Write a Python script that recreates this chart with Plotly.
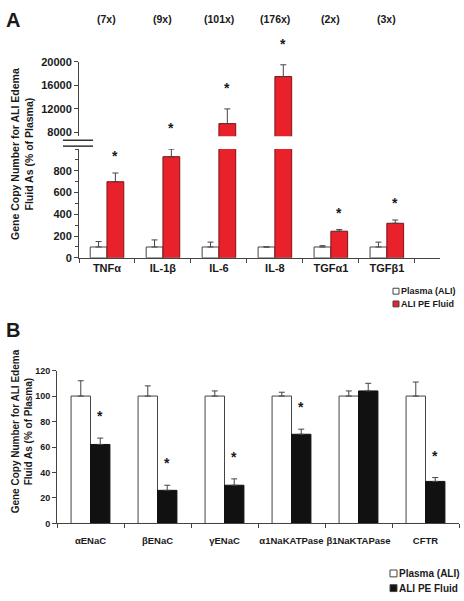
import plotly.graph_objects as go

W, H = 464, 601

# ---------------- data: panel A ----------------
a_categories = ["TNFα", "IL-1β", "IL-6", "IL-8", "TGFα1", "TGFβ1"]
a_fold_labels = ["(7x)", "(9x)", "(101x)", "(176x)", "(2x)", "(3x)"]
a_plasma = [100, 100, 100, 100, 100, 100]
a_plasma_err = [50, 65, 45, 0, 12, 45]
a_fluid = [700, 930, 9500, 17500, 245, 318]
a_fluid_err = [80, 70, 2500, 2000, 15, 30]
a_significant = [True, True, True, True, True, True]
a_low_ticks = [0, 200, 400, 600, 800]
a_high_ticks = [8000, 12000, 16000, 20000]
a_low_range = [0, 1000]
a_high_range = [7333, 20000]

# ---------------- data: panel B ----------------
b_categories = ["αENaC", "βENaC", "γENaC", "α1NaKATPase", "β1NaKTAPase", "CFTR"]
b_plasma = [100, 100, 100, 100, 100, 100]
b_plasma_err = [12, 8, 4, 3, 4, 11]
b_fluid = [62, 26, 30, 70, 104, 33]
b_fluid_err = [5, 4, 5, 4, 6, 3]
b_significant = [True, True, True, True, False, True]
b_ticks = [0, 20, 40, 60, 80, 100, 120]

legend_labels = ["Plasma (ALI)", "ALI PE Fluid"]
ytitle = "Gene Copy Number for ALI Edema<br>Fluid As (% of Plasma)"

RED = "#e8212a"
BLACK = "#111111"
LINE = "#444444"
TXT = "#1a1a1a"
FONT = "Liberation Sans, Arial, sans-serif"


def px(x):
    return x / W


def py(y):
    return 1 - y / H


def b(t):
    return f"<b>{t}</b>"


# split error bars between the lower and the upper (broken) axis
a_fluid_err_low = [e if v + e <= a_low_range[1] else 0 for v, e in zip(a_fluid, a_fluid_err)]
a_fluid_err_high = [e if v > a_high_range[0] else 0 for v, e in zip(a_fluid, a_fluid_err)]

fig = go.Figure()

bw_a = 0.3


def err(arr, color=LINE):
    return dict(type="data", array=arr, arrayminus=[0] * len(arr), symmetric=False,
                color=color, thickness=1, width=3)


# Panel A lower axis
fig.add_trace(go.Bar(x=a_categories, y=a_plasma, width=bw_a, offset=-bw_a,
                     marker=dict(color="white", line=dict(color=LINE, width=1)),
                     error_y=err(a_plasma_err), xaxis="x", yaxis="y", name=legend_labels[0]))
fig.add_trace(go.Bar(x=a_categories, y=a_fluid, width=bw_a, offset=0,
                     marker=dict(color=RED, line=dict(color="#7a1515", width=1)),
                     error_y=err(a_fluid_err_low), xaxis="x", yaxis="y", name=legend_labels[1]))
# Panel A upper axis (break)
fig.add_trace(go.Bar(x=a_categories, y=a_fluid, width=bw_a, offset=0,
                     marker=dict(color=RED, line=dict(color="#7a1515", width=1)),
                     error_y=err(a_fluid_err_high), xaxis="x", yaxis="y2", name=legend_labels[1]))

bw_b = 0.29
fig.add_trace(go.Bar(x=b_categories, y=b_plasma, width=bw_b, offset=-bw_b,
                     marker=dict(color="white", line=dict(color=LINE, width=1)),
                     error_y=err(b_plasma_err), xaxis="x2", yaxis="y3", name=legend_labels[0]))
fig.add_trace(go.Bar(x=b_categories, y=b_fluid, width=bw_b, offset=0,
                     marker=dict(color=BLACK, line=dict(color=BLACK, width=1)),
                     error_y=err(b_fluid_err), xaxis="x2", yaxis="y3", name=legend_labels[1]))

ann = []
fnt = dict(family=FONT, color=TXT)

# stars panel A
for c, v, e, s in zip(a_categories, a_fluid, a_fluid_err, a_significant):
    if not s:
        continue
    top = v + e
    if top <= a_low_range[1]:
        ann.append(dict(x=c, y=top, xref="x", yref="y", text=b("*"), showarrow=False,
                        xshift=bw_a * 56 / 2, yshift=17 if top < 990 else 21,
                        font=dict(size=14, **fnt)))
    else:
        ann.append(dict(x=c, y=top, xref="x", yref="y2", text=b("*"), showarrow=False,
                        xshift=bw_a * 56 / 2, yshift=21, font=dict(size=14, **fnt)))
# fold labels
for c, t in zip(a_categories, a_fold_labels):
    ann.append(dict(x=c, y=py(13), xref="x", yref="paper", text=b(t), showarrow=False,
                    xanchor="center", yanchor="middle", font=dict(size=10.5, **fnt)))
# stars panel B
for c, v, e, s in zip(b_categories, b_fluid, b_fluid_err, b_significant):
    if not s:
        continue
    ann.append(dict(x=c, y=v + e, xref="x2", yref="y3", text=b("*"), showarrow=False,
                    xshift=bw_b * 67 / 2, yshift=22, font=dict(size=14, **fnt)))

# panel letters
ann.append(dict(x=px(4), y=py(14), xref="paper", yref="paper", text=b("A"), showarrow=False,
                xanchor="left", yanchor="middle", font=dict(size=20, **fnt)))
ann.append(dict(x=px(4), y=py(331), xref="paper", yref="paper", text=b("B"), showarrow=False,
                xanchor="left", yanchor="middle", font=dict(size=20, **fnt)))
# y titles
ann.append(dict(x=px(22), y=py(151), xref="paper", yref="paper", text=b(ytitle), showarrow=False,
                xanchor="center", yanchor="middle", textangle=-90, font=dict(size=10.5, **fnt)))
ann.append(dict(x=px(22), y=py(434), xref="paper", yref="paper", text=b(ytitle), showarrow=False,
                xanchor="center", yanchor="middle", textangle=-90, font=dict(size=10, **fnt)))

shapes = []
# axis break marks
for yy in (137, 143):
    shapes.append(dict(type="line", xref="paper", yref="paper", x0=px(63), x1=px(93),
                       y0=py(yy), y1=py(yy), line=dict(color="#333", width=1.5)))


# legends
def legend(x, ys, fill2, size, fs):
    for j, (yy, fill) in enumerate(zip(ys, ["white", fill2])):
        shapes.append(dict(type="rect", xref="paper", yref="paper",
                           x0=px(x), x1=px(x + size), y0=py(yy + size / 2), y1=py(yy - size / 2),
                           fillcolor=fill, line=dict(color=LINE, width=1)))
        ann.append(dict(x=px(x + size), y=py(yy), xref="paper", yref="paper",
                        text=b(legend_labels[j]), showarrow=False, xanchor="left",
                        yanchor="middle", font=dict(size=fs, **fnt)))


legend(393, [291, 304], RED, 6, 9)
legend(390, [579, 594], BLACK, 7, 10)

axis_common = dict(showline=True, linecolor=LINE, linewidth=1, showgrid=False, zeroline=False,
                   ticks="outside", tickcolor=LINE, ticklen=4)

fig.update_layout(
    width=W, height=H, margin=dict(l=0, r=0, t=0, b=0),
    paper_bgcolor="white", plot_bgcolor="white", showlegend=False,
    font=dict(family=FONT, color=TXT),
    xaxis=dict(domain=[px(79), px(440)], range=[-0.5, 5.95], anchor="y",
               tickson="boundaries", tickangle=0,
               tickvals=a_categories, ticktext=[b(c) for c in a_categories],
               tickfont=dict(size=11), **axis_common),
    yaxis=dict(domain=[py(257), py(146)], range=a_low_range, anchor="x",
               tickvals=a_low_ticks, ticktext=[b(v) for v in a_low_ticks],
               tickfont=dict(size=11),
               minor=dict(dtick=100, ticks="outside", ticklen=3, tickcolor=LINE),
               **axis_common),
    yaxis2=dict(domain=[py(133), py(57)], range=a_high_range, anchor="x",
                tickvals=a_high_ticks, ticktext=[b(v) for v in a_high_ticks],
                tickfont=dict(size=11), **axis_common),
    xaxis2=dict(domain=[px(57), px(459)], range=[-0.5, 5.5], anchor="y3",
                tickson="boundaries", ticklabelstandoff=8, tickangle=0,
                tickvals=b_categories, ticktext=[b(c) for c in b_categories],
                tickfont=dict(size=9.5), **axis_common),
    yaxis3=dict(domain=[py(528), py(372)], range=[0, 120], anchor="x2",
                tickvals=b_ticks, ticktext=[b(v) for v in b_ticks],
                tickfont=dict(size=9), **axis_common),
    annotations=ann, shapes=shapes,
)

fig.write_html("out.html", config={"displayModeBar": False},
               post_script="document.body.style.margin='0';")
